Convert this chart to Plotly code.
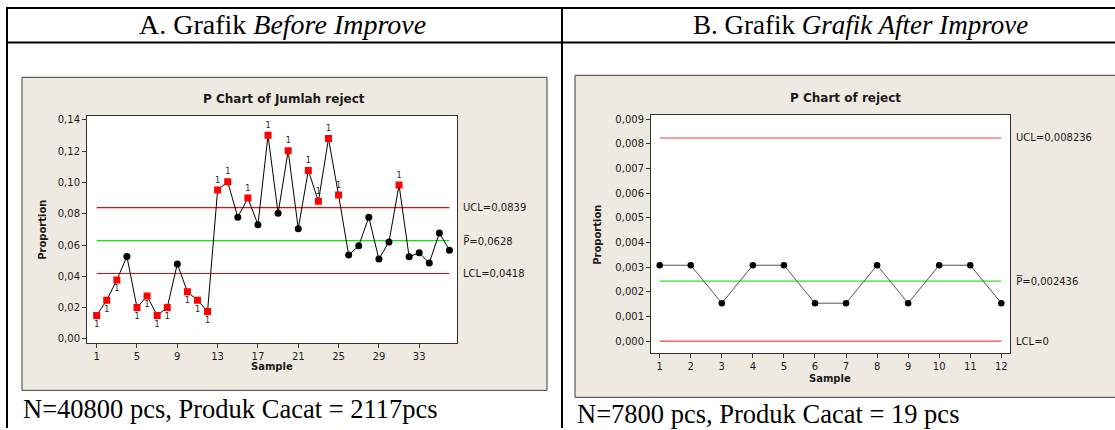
import plotly.graph_objects as go

# ---------------- data ----------------
samples_a = list(range(1, 37))
prop_a = [0.0150, 0.0247, 0.0377, 0.0527, 0.0200, 0.0274, 0.0150, 0.0200, 0.0479,
          0.0301, 0.0247, 0.0175, 0.0951, 0.1004, 0.0778, 0.0900, 0.0730, 0.1301,
          0.0803, 0.1202, 0.0704, 0.1077, 0.0879, 0.1280, 0.0919, 0.0536, 0.0595,
          0.0778, 0.0510, 0.0620, 0.0983, 0.0525, 0.0550, 0.0485, 0.0677, 0.0567]
ucl_a, pbar_a, lcl_a = 0.0839, 0.0628, 0.0418
xticks_a = [1, 5, 9, 13, 17, 21, 25, 29, 33]
yticks_a = [0.00, 0.02, 0.04, 0.06, 0.08, 0.10, 0.12, 0.14]

samples_b = list(range(1, 13))
prop_b = [0.003077, 0.003077, 0.001538, 0.003077, 0.003077, 0.001538,
          0.001538, 0.003077, 0.001538, 0.003077, 0.003077, 0.001538]
ucl_b, pbar_b, lcl_b = 0.008236, 0.002436, 0.0
xticks_b = list(range(1, 13))
yticks_b = [0.000, 0.001, 0.002, 0.003, 0.004, 0.005, 0.006, 0.007, 0.008, 0.009]

header_a = "A. Grafik <i>Before Improve</i>"
header_b = "B. Grafik <i>Grafik After Improve</i>"
title_a = "P Chart of Jumlah reject"
title_b = "P Chart of reject"
caption_a = "N=40800 pcs, Produk Cacat = 2117pcs"
caption_b = "N=7800 pcs, Produk Cacat = 19 pcs"

# ---------------- helpers ----------------
W, H = 1115, 430
def X(px):
    return px / W
def Y(py):
    return 1 - py / H

def fmt(v, d):
    return f"{v:.{d}f}".replace(".", ",")

UI = "DejaVu Sans"
SERIF = "Liberation Serif"

fig = go.Figure()

# ---------------- chart A traces ----------------
for val, col in [(ucl_a, "#ff0000"), (pbar_a, "#11e011"), (lcl_a, "#ff0000")]:
    fig.add_trace(go.Scatter(x=[samples_a[0], samples_a[-1]], y=[val, val], mode="lines",
                             line=dict(color=col, width=1.2), xaxis="x", yaxis="y",
                             hoverinfo="skip"))
fig.add_trace(go.Scatter(x=samples_a, y=prop_a, mode="lines", line=dict(color="black", width=1),
                         xaxis="x", yaxis="y"))
in_x = [s for s, p in zip(samples_a, prop_a) if lcl_a <= p <= ucl_a]
in_y = [p for p in prop_a if lcl_a <= p <= ucl_a]
out_x = [s for s, p in zip(samples_a, prop_a) if not (lcl_a <= p <= ucl_a)]
out_y = [p for p in prop_a if not (lcl_a <= p <= ucl_a)]
out_pos = ["top center" if p > ucl_a else "bottom center" for p in out_y]
fig.add_trace(go.Scatter(x=in_x, y=in_y, mode="markers",
                         marker=dict(color="black", size=7, symbol="circle"),
                         xaxis="x", yaxis="y"))
fig.add_trace(go.Scatter(x=out_x, y=out_y, mode="markers+text", text=["1"] * len(out_x),
                         textposition=out_pos, textfont=dict(family=UI, size=8, color="#222"),
                         marker=dict(color="#ff0000", size=7, symbol="square"),
                         xaxis="x", yaxis="y"))

# ---------------- chart B traces ----------------
for val, col in [(ucl_b, "#ff3c3c"), (pbar_b, "#33dd33"), (lcl_b, "#ff3c3c")]:
    fig.add_trace(go.Scatter(x=[samples_b[0], samples_b[-1]], y=[val, val], mode="lines",
                             line=dict(color=col, width=1.2), xaxis="x2", yaxis="y2",
                             hoverinfo="skip"))
fig.add_trace(go.Scatter(x=samples_b, y=prop_b, mode="lines+markers",
                         line=dict(color="#555555", width=1),
                         marker=dict(color="black", size=6.5, symbol="circle"),
                         xaxis="x2", yaxis="y2"))

# ---------------- axes ----------------
axis_common = dict(showgrid=False, zeroline=False, showline=True, linecolor="#333333",
                   linewidth=1, mirror=True, ticks="outside", ticklen=4, tickcolor="#333333",
                   tickfont=dict(family=UI, size=10, color="#1a1a1a"))

ax_a = (87, 457, 115, 344)
ax_b = (651, 1010, 114, 354)

layout = dict(
    width=W, height=H, autosize=False, margin=dict(l=0, r=0, t=0, b=0),
    paper_bgcolor="white", plot_bgcolor="rgba(0,0,0,0)", showlegend=False,
    separators=",.",
    xaxis=dict(domain=[X(ax_a[0]), X(ax_a[1])], range=[0.04, 36.75], tickvals=xticks_a,
               anchor="y", **axis_common),
    yaxis=dict(domain=[Y(ax_a[3]), Y(ax_a[2])], range=[-0.0025, 0.1425], tickvals=yticks_a,
               tickformat=".2f", anchor="x", **axis_common),
    xaxis2=dict(domain=[X(ax_b[0]), X(ax_b[1])], range=[0.72, 12.28], tickvals=xticks_b,
                anchor="y2", **axis_common),
    yaxis2=dict(domain=[Y(ax_b[3]), Y(ax_b[2])], range=[-0.00047, 0.00917], tickvals=yticks_b,
                tickformat=".3f", anchor="x2", **axis_common),
)

# ---------------- shapes ----------------
shapes = []
def rect(x0, y0, x1, y1, fill, line_col=None, lw=0):
    shapes.append(dict(type="rect", xref="paper", yref="paper", x0=X(x0), x1=X(x1),
                       y0=Y(y1), y1=Y(y0), fillcolor=fill,
                       line=dict(color=line_col or fill, width=lw), layer="below"))
def hline(x0, x1, y, w=2):
    shapes.append(dict(type="line", xref="paper", yref="paper", x0=X(x0), x1=X(x1),
                       y0=Y(y), y1=Y(y), line=dict(color="black", width=w)))
def vline(x, y0, y1, w=2):
    shapes.append(dict(type="line", xref="paper", yref="paper", x0=X(x), x1=X(x),
                       y0=Y(y0), y1=Y(y1), line=dict(color="black", width=w)))

rect(22, 76, 547, 392, "#EEEAE1", "#3a3a3a", 1)
rect(575, 74, 1130, 399, "#EEEAE1", "#3a3a3a", 1)
rect(ax_a[0], ax_a[2], ax_a[1], ax_a[3], "white")
rect(ax_b[0], ax_b[2], ax_b[1], ax_b[3], "white")
hline(6, 1115, 6)
hline(6, 1115, 41)
vline(7, 5, 430)
vline(562, 5, 430)
layout["shapes"] = shapes

# ---------------- annotations ----------------
ann = []
def text(x, y, s, size, family=UI, bold=False, angle=0, xanchor="center", yanchor="middle",
         color="#1a1a1a", xref="paper", yref="paper", yval=None):
    ann.append(dict(x=X(x), y=(Y(y) if yval is None else yval), xref=xref, yref=yref,
                    text=(f"<b>{s}</b>" if bold else s), showarrow=False, textangle=angle,
                    xanchor=xanchor, yanchor=yanchor,
                    font=dict(family=family, size=size, color=color)))

text(282, 23, header_a, 28, family=SERIF, color="black")
text(860, 23, header_b, 27, family=SERIF, color="black")
text(21, 411, caption_a, 26.5, family=SERIF, color="black", xanchor="left")
text(575, 416, caption_b, 26.5, family=SERIF, color="black", xanchor="left")

text(284, 98, title_a, 12, bold=True)
text(845, 97, title_b, 12, bold=True)
text(43, 230, "Proportion", 10, bold=True, angle=-90)
text(598, 235, "Proportion", 10, bold=True, angle=-90)
text(272, 368, "Sample", 10, bold=True)
text(830, 380, "Sample", 10, bold=True)

for v, lab in [(ucl_a, "UCL=" + fmt(ucl_a, 4)), (pbar_a, "P\u0305=" + fmt(pbar_a, 4)),
               (lcl_a, "LCL=" + fmt(lcl_a, 4))]:
    text(461, 0, lab, 10, xanchor="left", yref="y", yval=v)
for v, lab in [(ucl_b, "UCL=" + fmt(ucl_b, 6)), (pbar_b, "P\u0305=" + fmt(pbar_b, 6)),
               (lcl_b, "LCL=" + ("0" if lcl_b == 0 else fmt(lcl_b, 6)))]:
    text(1014, 0, lab, 10, xanchor="left", yref="y2", yval=v)

layout["annotations"] = ann
fig.update_layout(**layout)
fig.write_html("out.html", config={"displayModeBar": False},
               post_script="document.body.style.margin='0';document.body.style.overflow='hidden';")
